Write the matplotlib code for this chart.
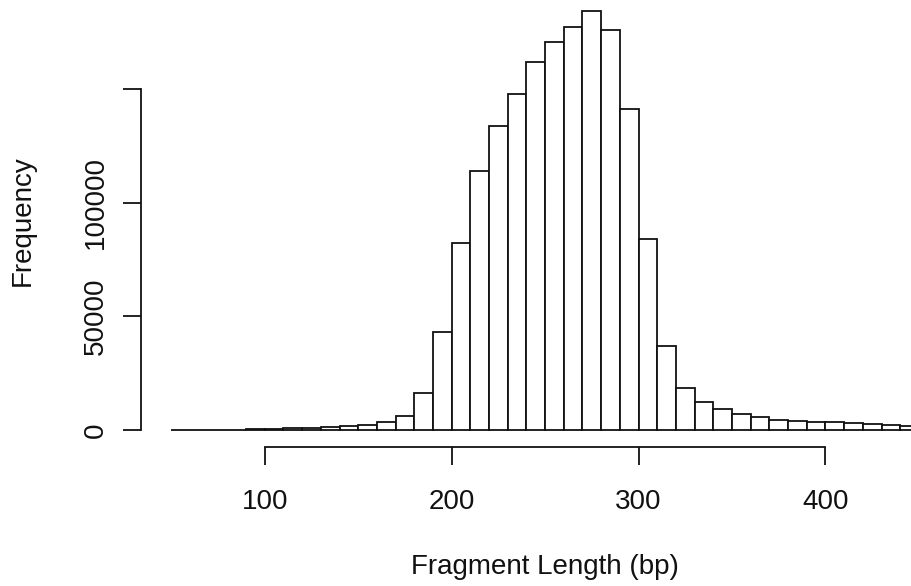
import matplotlib
matplotlib.use("Agg")
import matplotlib.pyplot as plt
import numpy as np

# Histogram data (bin edges every 10 bp, 50..450)
bin_edges = list(range(50, 451, 10))
counts = [0, 0, 50, 150, 300, 450, 750, 1000, 1500, 1800,
          2200, 3500, 6100, 16300, 43200, 82400, 113800, 133500, 147700, 162000,
          170500, 177400, 184100, 175800, 141300, 84100, 37100, 18300, 12400, 9300,
          7100, 5500, 4600, 3900, 3600, 3300, 3000, 2500, 2100, 1600]
x_ticks = [100, 200, 300, 400]
x_tick_labels = ["100", "200", "300", "400"]
y_ticks = [0, 50000, 100000, 150000]
y_tick_labels = ["0", "50000", "100000", ""]
x_label = "Fragment Length (bp)"
y_label = "Frequency"

plt.rcParams['font.family'] = ['Liberation Sans', 'DejaVu Sans']

W, H = 912, 586
fig = plt.figure(figsize=(W / 100, H / 100), dpi=100)

# R-style plot region (pixels): left 141.4, right 948.8, top -5.3, bottom 446.7
L, R, T, B = 141.4, 948.8, -5.3, 446.7
ax = fig.add_axes([L / W, (H - B) / H, (R - L) / W, (B - T) / H])

lw = 1.3
col = '#111111'
edges = np.array(bin_edges)
ax.bar(edges[:-1], counts, width=np.diff(edges), align='edge',
       facecolor='white', edgecolor=col, linewidth=lw, clip_on=False)

xmin, xmax = edges[0], edges[-1]
ymax = max(counts)
ax.set_xlim(xmin - 0.04 * (xmax - xmin), xmax + 0.04 * (xmax - xmin))
ax.set_ylim(-0.04 * ymax, 1.04 * ymax)

for s in ['top', 'right']:
    ax.spines[s].set_visible(False)
ax.spines['left'].set_bounds(y_ticks[0], y_ticks[-1])
ax.spines['bottom'].set_bounds(x_ticks[0], x_ticks[-1])
for s in ['left', 'bottom']:
    ax.spines[s].set_linewidth(lw)
    ax.spines[s].set_color(col)

ax.set_xticks(x_ticks)
ax.set_xticklabels(x_tick_labels)
ax.set_yticks(y_ticks)
ax.set_yticklabels(y_tick_labels)
ax.tick_params(axis='both', direction='out', length=13.2, width=lw, color=col,
               labelsize=20, labelcolor='#111111')
ax.tick_params(axis='x', pad=17)
ax.tick_params(axis='y', pad=10)
for lbl in ax.get_yticklabels():
    lbl.set_rotation(90)
    lbl.set_va('center')
    lbl.set_ha('right')

ax.set_xlabel(x_label, fontsize=20, color='#111111')
ax.xaxis.set_label_coords((545 - L) / (R - L), (B - 567) / (B - T))
ax.xaxis.label.set_va('center')
ax.set_ylabel(y_label, fontsize=20, color='#111111')
ax.yaxis.set_label_coords((23 - L) / (R - L), 0.5)
ax.yaxis.label.set_va('center')

fig.savefig("out.png", dpi=100)
